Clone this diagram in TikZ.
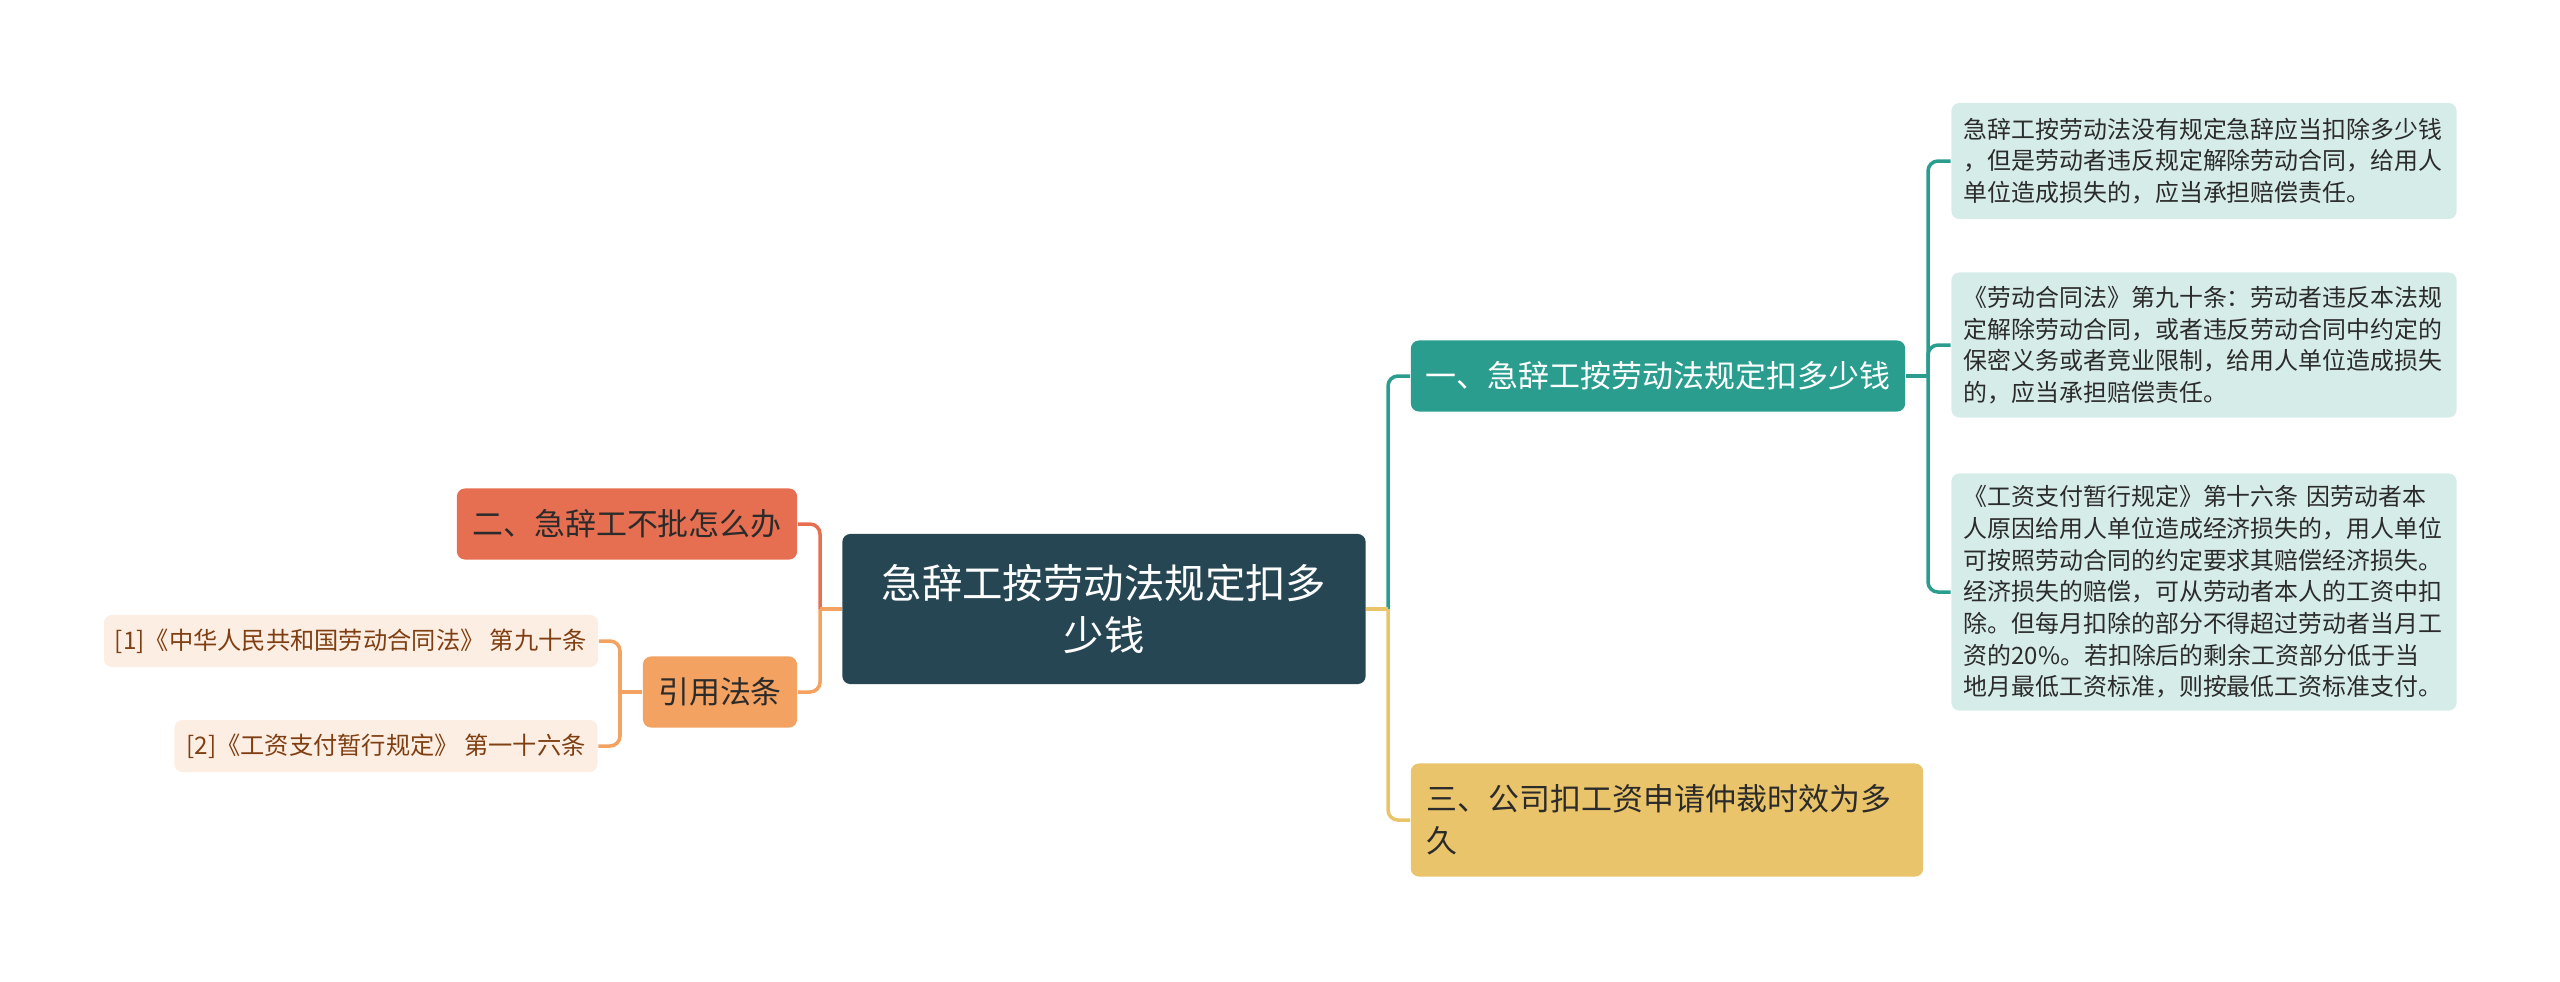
\documentclass[tikz,border=0pt]{standalone}
\usepackage{fontspec}
\setmainfont{Noto Sans CJK SC}
\usepackage{tikz}
\usetikzlibrary{calc}
\definecolor{rootfill}{HTML}{264653}
\definecolor{tealc}{HTML}{2A9D8F}
\definecolor{yellowc}{HTML}{E9C46A}
\definecolor{orangec}{HTML}{F4A261}
\definecolor{redc}{HTML}{E76F51}
\definecolor{tealleaf}{HTML}{D6ECE9}
\definecolor{peachleaf}{HTML}{FDEEE3}
\definecolor{browntext}{HTML}{7F3F12}
\definecolor{darktext}{HTML}{2B2B2B}
\tikzset{
  box/.style={rounded corners=0.08cm, inner sep=0pt, align=center},
  rootbox/.style={box, fill=rootfill, text=white, font=\fontsize{11.5}{14.8}\selectfont,
    minimum width=5.23cm, minimum height=1.50cm},
  topicbox/.style={box, font=\fontsize{8.8}{12}\selectfont, minimum height=0.71cm},
  rleaf/.style={box, fill=tealleaf, text=darktext, font=\fontsize{6.8}{9}\selectfont,
    text width=4.80cm, align=left, inner xsep=0.125cm},
  lleaf/.style={box, fill=peachleaf, text=browntext, font=\fontsize{6.9}{9}\selectfont,
    minimum height=0.52cm},
  link/.style={line width=1pt, rounded corners=0.1cm}
}

\begin{document}
\begin{tikzpicture}[x=0.01cm, y=-0.01cm]
    \useasboundingbox (0,0) rectangle (2560,981);
    % centre
    \node[rootbox] (root) at (1104,609) {急辞工按劳动法规定扣多\\少钱};
    % right side
    \node[topicbox, fill=tealc, text=white, minimum width=4.94cm] (b1) at (1658,376) {一、急辞工按劳动法规定扣多少钱};
    \node[topicbox, fill=yellowc, text=darktext, text width=4.80cm, align=left, inner xsep=0.16cm,
      minimum height=1.13cm] (b3) at (1667,820) {三、公司扣工资申请仲裁时效为多\\久};
    \node[rleaf, minimum height=1.16cm] (r1) at (2204,161) {急辞工按劳动法没有规定急辞应当扣除多少钱\\，但是劳动者违反规定解除劳动合同，给用人\\单位造成损失的，应当承担赔偿责任。};
    \node[rleaf, minimum height=1.45cm] (r2) at (2204,345) {《劳动合同法》第九十条：劳动者违反本法规\\定解除劳动合同，或者违反劳动合同中约定的\\保密义务或者竞业限制，给用人单位造成损失\\的，应当承担赔偿责任。};
    \node[rleaf, minimum height=2.37cm] (r3) at (2204,592) {《工资支付暂行规定》第十六条 因劳动者本\\人原因给用人单位造成经济损失的，用人单位\\可按照劳动合同的约定要求其赔偿经济损失。\\经济损失的赔偿，可从劳动者本人的工资中扣\\除。但每月扣除的部分不得超过劳动者当月工\\资的20\%。若扣除后的剩余工资部分低于当\\地月最低工资标准，则按最低工资标准支付。};
    % left side
    \node[topicbox, fill=redc, text=darktext, minimum width=3.40cm] (b2) at (627,524) {二、急辞工不批怎么办};
    \node[topicbox, fill=orangec, text=darktext, minimum width=1.54cm] (cite) at (720,692) {引用法条};
    \node[lleaf, minimum width=4.94cm] (c1) at (351,641) {[1]《中华人民共和国劳动合同法》 第九十条};
    \node[lleaf, minimum width=4.23cm] (c2) at (386,746) {[2]《工资支付暂行规定》 第一十六条};
    % connectors
    \coordinate (rj) at (1388,609);
    \coordinate (lj) at (820,609);
    \coordinate (bj) at (1928,376);
    \coordinate (cj) at (620,692);
    \draw[link, tealc] (rj) |- (b1.west);
    \draw[link, yellowc] (rj) |- (b3.west);
    \draw[link, yellowc] (root.east) -- (rj);
    \draw[link, redc] (lj) |- (b2.east);
    \draw[link, orangec] (lj) |- (cite.east);
    \draw[link, orangec] (root.west) -- (lj);
    \draw[link, tealc] (b1.east) -- (bj);
    \foreach \leaf in {r1,r2,r3}
      \draw[link, tealc] (bj) |- (\leaf.west);
    \draw[link, orangec] (cite.west) -- (cj);
    \foreach \leaf in {c1,c2}
      \draw[link, orangec] (cj) |- (\leaf.east);
\end{tikzpicture}
\end{document}
